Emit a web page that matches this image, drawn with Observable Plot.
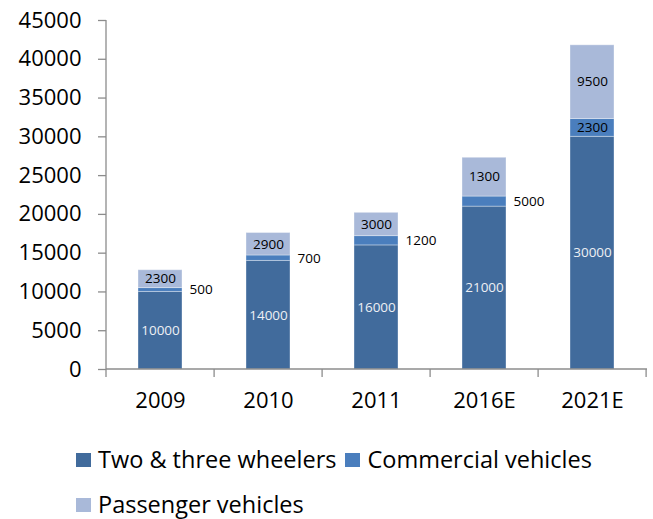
<!DOCTYPE html>
<html>
<head>
<meta charset="utf-8">
<script src="https://cdn.jsdelivr.net/npm/d3@7"></script>
<script src="https://cdn.jsdelivr.net/npm/@observablehq/plot@0.6"></script>
<style>
  body { margin: 0; background: #fff; font-family: "Open Sans", sans-serif; overflow: hidden; }
  #legend { display: flex; flex-wrap: wrap; width: 570px; padding-left: 76px; margin-top: 7px; column-gap: 9px; }
  .item { display: flex; align-items: center; height: 45px; font-size: 23.5px; line-height: 1; color: #000; white-space: nowrap; }
  .sw { width: 15px; height: 14px; margin-right: 7px; }
</style>
</head>
<body>
<div id="chart"></div>
<div id="legend"></div>
<script>
const years = ["2009", "2010", "2011", "2016E", "2021E"];
const seriesNames = ["Two & three wheelers", "Commercial vehicles", "Passenger vehicles"];
const twoThree = [10000, 14000, 16000, 21000, 30000];
const commercial = [500, 700, 1200, 1300, 2300];
const passenger = [2300, 2900, 3000, 5000, 9500];
// labels as printed on the original chart
const twoThreeLabels = ["10000", "14000", "16000", "21000", "30000"];
const commercialLabels = ["500", "700", "1200", "5000", "2300"];
const passengerLabels = ["2300", "2900", "3000", "1300", "9500"];
const yTicks = [0, 5000, 10000, 15000, 20000, 25000, 30000, 35000, 40000, 45000];
const colors = ["#416b9c", "#4a7ebd", "#a9b9d9"];

const valueLists = [twoThree, commercial, passenger];
const labelLists = [twoThreeLabels, commercialLabels, passengerLabels];
const data = years.flatMap((year, i) =>
  seriesNames.map((series, s) => ({
    year, series, s,
    value: valueLists[s][i],
    label: labelLists[s][i]
  }))
);
const outside = d => d.s === 1 && d.value < 2000;
const font = "Open Sans";
const axisColor = "#8c8c8c";

const axisLines = (index, scales, values, dims) => {
  const g = d3.create("svg:g").attr("stroke", axisColor).attr("stroke-width", 1.3).attr("fill", "none");
  const x0 = dims.marginLeft, x1 = dims.width - dims.marginRight;
  const y0 = scales.y(0);
  const yTop = scales.y(d3.max(yTicks));
  g.append("line").attr("x1", x0).attr("x2", x0).attr("y1", yTop).attr("y2", y0 + 8);
  g.append("line").attr("x1", x0).attr("x2", x1).attr("y1", y0).attr("y2", y0);
  const bw = scales.scales.x.bandwidth;
  const step = (x1 - x0) / years.length;
  years.forEach(yr => {
    const xb = scales.x(yr) + bw / 2 + step / 2;
    g.append("line").attr("x1", xb).attr("x2", xb).attr("y1", y0).attr("y2", y0 + 8);
  });
  return g.node();
};

const chart = Plot.plot({
  width: 653,
  height: 430,
  marginLeft: 106,
  marginRight: 6,
  marginTop: 20,
  marginBottom: 61,
  style: { fontFamily: font, background: "#fff", color: "#000" },
  x: { domain: years, paddingInner: 0.59, paddingOuter: 0.295, label: null },
  y: { domain: [0, 45000], label: null },
  color: { domain: seriesNames, range: colors },
  marks: [
    Plot.barY(data, { x: "year", y: "value", z: "series", fill: "series", stroke: "#ffffff", strokeOpacity: 0.35, strokeWidth: 1 }),
    Plot.text(data, Plot.stackY({ x: "year", y: "value", z: "series",
      text: d => d.s === 0 ? d.label : "", fill: "#eef0f4", fontSize: 13.5, fontFamily: font })),
    Plot.text(data, Plot.stackY({ x: "year", y: "value", z: "series",
      text: d => (d.s === 2 || (d.s === 1 && !outside(d))) ? d.label : "", fill: "#000", fontSize: 13.5, fontFamily: font })),
    Plot.text(data, Plot.stackY({ x: "year", y: "value", z: "series",
      text: d => outside(d) ? d.label : "", fill: "#000", fontSize: 13.5, fontFamily: font, textAnchor: "start", dx: 29 })),
    Plot.axisY({ ticks: yTicks, tickFormat: d => String(d), tickSize: 8, tickPadding: 17, stroke: axisColor, strokeWidth: 1.3, fontSize: 22, fontFamily: font, fill: "#000", label: null }),
    Plot.axisX({ tickSize: 0, tickPadding: 23, fontSize: 22, fontFamily: font, fill: "#000", label: null }),
    axisLines
  ]
});
document.getElementById("chart").appendChild(chart);

const legend = document.getElementById("legend");
seriesNames.forEach((name, i) => {
  const item = document.createElement("div");
  item.className = "item";
  const sw = document.createElement("span");
  sw.className = "sw";
  sw.style.background = colors[i];
  item.appendChild(sw);
  item.appendChild(document.createTextNode(name));
  legend.appendChild(item);
});
</script>
</body>
</html>
